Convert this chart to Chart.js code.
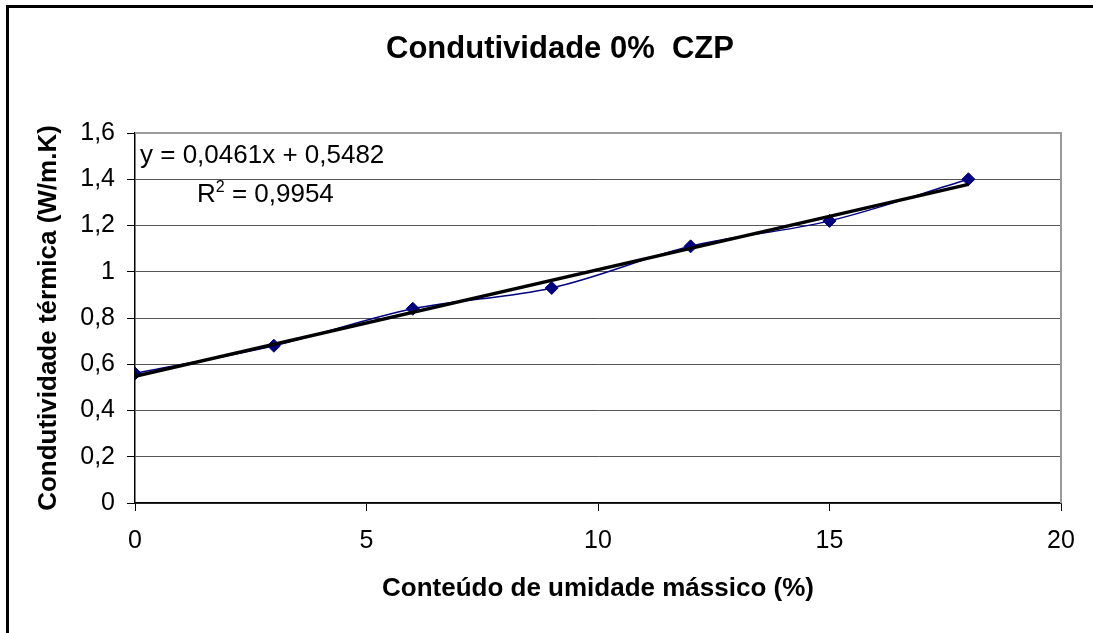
<!DOCTYPE html>
<html lang="pt">
<head>
<meta charset="utf-8">
<title>Condutividade 0% CZP</title>
<script src="https://cdn.jsdelivr.net/npm/chart.js@4.4.1/dist/chart.umd.min.js"></script>
<style>
  html, body { margin: 0; padding: 0; background: #fff; overflow: hidden; }
  #wrap { position: relative; width: 1093px; height: 633px; overflow: hidden; background: #fff; }
  #frame { position: absolute; left: 6px; top: 5px; width: 1200px; height: 800px;
           border-left: 3px solid #000; border-top: 3px solid #000; }
  #chart { position: absolute; left: 0; top: 0; }
</style>
</head>
<body>
<div id="wrap">
  <div id="frame"></div>
  <canvas id="chart" width="1093" height="633"></canvas>
</div>
<script>
const FONT = '"Liberation Sans", Arial, sans-serif';

// moisture content (%) vs measured thermal conductivity (W/m.K)
const moisture = [0, 3, 6, 9, 12, 15, 18];
const conductivity = [0.56, 0.68, 0.84, 0.93, 1.11, 1.22, 1.40];

// linear fit printed on the chart
const slope = 0.0461;
const intercept = 0.5482;
const rSquared = 0.9954;

const xTicks = [0, 5, 10, 15, 20];
const yTicks = [0, 0.2, 0.4, 0.6, 0.8, 1, 1.2, 1.4, 1.6];
const yTickLabels = ['0', '0,2', '0,4', '0,6', '0,8', '1', '1,2', '1,4', '1,6'];

const title = 'Condutividade 0%  CZP';
const xTitle = 'Conteúdo de umidade mássico (%)';
const yTitle = 'Condutividade térmica (W/m.K)';

const fmt = v => v.toFixed(4).replace('.', ',');

const points = moisture.map((x, i) => ({ x: x, y: conductivity[i] }));
const xFirst = moisture[0];
const xLast = moisture[moisture.length - 1];
const trend = [
    { x: xFirst, y: intercept + slope * xFirst },
    { x: xLast, y: intercept + slope * xLast }
];

// chart title, plot frame and the regression label
const decorations = {
    id: 'decorations',
    beforeDatasetsDraw(chart) {
        const { ctx, chartArea: a } = chart;
        ctx.save();
        ctx.strokeStyle = '#9a9a9a';
        ctx.lineWidth = 2;
        ctx.beginPath();
        ctx.moveTo(a.left, a.top);
        ctx.lineTo(a.right, a.top);
        ctx.lineTo(a.right, a.bottom);
        ctx.stroke();
        ctx.restore();
    },
    afterDraw(chart) {
        const ctx = chart.ctx;
        ctx.save();
        ctx.fillStyle = '#000';
        ctx.textBaseline = 'alphabetic';

        ctx.font = 'bold 31px ' + FONT;
        ctx.textAlign = 'center';
        ctx.fillText(title, 560, 58);

        ctx.textAlign = 'left';
        ctx.font = '26px ' + FONT;
        ctx.fillText('y = ' + fmt(slope) + 'x + ' + fmt(intercept), 140, 163);

        let x = 197;
        ctx.fillText('R', x, 202);
        x += ctx.measureText('R').width;
        ctx.font = '16px ' + FONT;
        ctx.fillText('2', x, 192);
        x += ctx.measureText('2').width;
        ctx.font = '26px ' + FONT;
        ctx.fillText(' = ' + fmt(rSquared), x, 202);
        ctx.restore();
    }
};

const ctx = document.getElementById('chart').getContext('2d');
const chart = new Chart(ctx, {
    type: 'scatter',
    data: {
        datasets: [{
            label: 'Linear',
            data: trend,
            showLine: true,
            borderColor: '#000',
            borderWidth: 3.5,
            pointRadius: 0,
            order: 0
        }, {
            label: 'Condutividade',
            data: points,
            showLine: true,
            tension: 0.35,
            borderColor: '#000080',
            borderWidth: 1.5,
            pointStyle: 'rectRot',
            pointRadius: 6.5,
            pointBackgroundColor: '#000080',
            pointBorderColor: '#000080',
            pointBorderWidth: 1,
            order: 1
        }]
    },
    options: {
        responsive: false,
        animation: false,
        devicePixelRatio: 1,
        layout: { padding: { top: 133, right: 32, bottom: 0, left: 0 } },
        plugins: {
            legend: { display: false },
            tooltip: { enabled: false }
        },
        scales: {
            x: {
                type: 'linear',
                min: 0,
                max: 20,
                afterBuildTicks: s => { s.ticks = xTicks.map(v => ({ value: v })); },
                afterFit: s => { s.height = 130; },
                ticks: {
                    color: '#000',
                    padding: 15,
                    font: { family: FONT, size: 25 },
                    callback: v => String(v)
                },
                grid: { drawOnChartArea: false, drawTicks: true, tickLength: 8, tickColor: '#000' },
                border: { color: '#000', width: 1.5 },
                title: {
                    display: true,
                    text: xTitle,
                    color: '#000',
                    font: { family: FONT, size: 26, weight: 'bold' },
                    padding: { top: 0, bottom: 29 }
                }
            },
            y: {
                min: 0,
                max: 1.6,
                afterBuildTicks: s => { s.ticks = yTicks.map(v => ({ value: v })); },
                afterFit: s => { s.width = 135; },
                ticks: {
                    color: '#000',
                    padding: 12,
                    font: { family: FONT, size: 25 },
                    callback: (v, i) => yTickLabels[i]
                },
                grid: { color: '#555', lineWidth: 1, drawTicks: true, tickLength: 8, tickColor: '#000' },
                border: { color: '#000', width: 1.5 },
                title: {
                    display: true,
                    text: yTitle,
                    color: '#000',
                    font: { family: FONT, size: 26, weight: 'bold' },
                    padding: { top: 33, bottom: 0 }
                }
            }
        }
    },
    plugins: [decorations]
});
</script>
</body>
</html>
